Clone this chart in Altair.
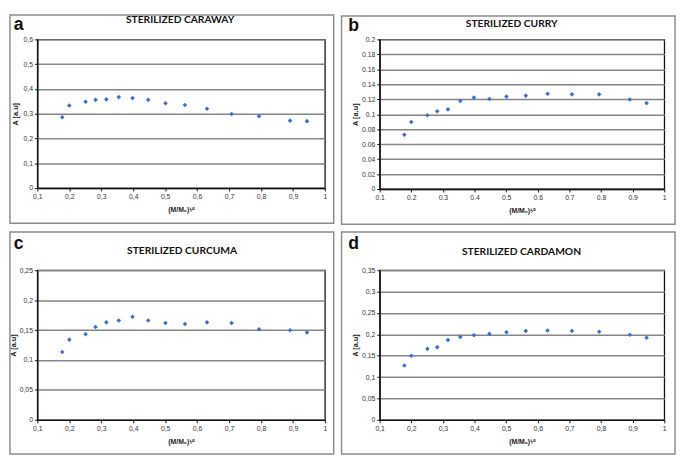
import altair as alt
import pandas as pd

# ---- data ----
x_vals = [0.178, 0.2, 0.251, 0.282, 0.316, 0.355, 0.398, 0.447, 0.501, 0.562,
          0.631, 0.708, 0.794, 0.891, 0.944]
caraway = [0.286, 0.333, 0.348, 0.356, 0.358, 0.367, 0.363, 0.356, 0.342, 0.335,
           0.320, 0.299, 0.290, 0.272, 0.270]
curry = [0.0726, 0.0896, 0.0987, 0.1039, 0.1065, 0.1178, 0.1222, 0.1204, 0.1235,
         0.1248, 0.1274, 0.1265, 0.1265, 0.1196, 0.1148]
curcuma = [0.1133, 0.134, 0.1432, 0.1552, 0.1629, 0.1661, 0.1721, 0.1661, 0.1618,
           0.1601, 0.1629, 0.1618, 0.1514, 0.1498, 0.146]
cardamon = [0.127, 0.150, 0.166, 0.170, 0.187, 0.194, 0.198, 0.201, 0.205, 0.208,
            0.209, 0.208, 0.206, 0.199, 0.192]

x_ticks = [0.1, 0.2, 0.3, 0.4, 0.5, 0.6, 0.7, 0.8, 0.9, 1]
y_ticks_a = [0, 0.1, 0.2, 0.3, 0.4, 0.5, 0.6]
y_ticks_b = [0, 0.02, 0.04, 0.06, 0.08, 0.1, 0.12, 0.14, 0.16, 0.18, 0.2]
y_ticks_c = [0, 0.05, 0.1, 0.15, 0.2, 0.25]
y_ticks_d = [0, 0.05, 0.1, 0.15, 0.2, 0.25, 0.3, 0.35]

letters = ["a", "b", "c", "d"]
titles = ["STERILIZED CARAWAY", "STERILIZED CURRY", "STERILIZED CURCUMA", "STERILIZED CARDAMON"]
x_title = "(M/M₀)¹⁄²"
y_title = "A  [a.u]"

ONE = [{}]


def panel(values, letter, title, yticks, comma, W, H, left, top, right, bottom,
          letter_pos, title_pos, ytitle_x):
    df = pd.DataFrame({"x": x_vals, "y": values})
    lbl = "replace(toString(datum.value), '.', ',')" if comma else "toString(datum.value)"
    border = alt.Chart(alt.Data(values=ONE)).mark_rect(
        filled=False, stroke="#8c8c8c", strokeWidth=1.5
    ).encode(x=alt.value(-left), x2=alt.value(W + right),
             y=alt.value(-top), y2=alt.value(H + bottom))
    let = alt.Chart(alt.Data(values=ONE)).mark_text(
        text=letter, align="left", baseline="alphabetic", fontSize=18,
        fontWeight="bold", font="Liberation Sans", color="#111"
    ).encode(x=alt.value(letter_pos[0]), y=alt.value(letter_pos[1]))
    ttl = alt.Chart(alt.Data(values=ONE)).mark_text(
        text=title, align="center", baseline="alphabetic", fontSize=10.5,
        fontWeight="bold", font="Lato", color="#111"
    ).encode(x=alt.value(title_pos[0]), y=alt.value(title_pos[1]))
    pts = alt.Chart(df).mark_point(
        shape="diamond", filled=True, size=22, color="#3a6fd6", opacity=1
    ).encode(
        x=alt.X("x:Q", scale=alt.Scale(domain=[0.1, 1], nice=False, zero=False),
                axis=alt.Axis(values=x_ticks, labelExpr=lbl, title=x_title, grid=False,
                              labelFlush=False, titleY=24, titleBaseline="alphabetic",
                              titleFontSize=7, titleFontWeight="bold")),
        y=alt.Y("y:Q", scale=alt.Scale(domain=[0, yticks[-1]], nice=False),
                axis=alt.Axis(values=yticks, labelExpr=lbl, title=y_title, grid=True,
                              titleX=ytitle_x, titleY=H / 2, titleAngle=-90,
                              titleAlign="center", titleBaseline="middle",
                              titleFontSize=7.5, titleFontWeight="bold")),
    )
    return alt.layer(border, let, ttl, pts).properties(width=W, height=H)


a = panel(caraway, "a", titles[0], y_ticks_a, True, 294, 152, 28, 25, 9, 36,
          (-24, -10), (146, -17), -22)
b = panel(curry, "b", titles[1], y_ticks_b, False, 291, 153, 39, 24, 11, 36,
          (-32, -9), (135, -13), -25)
c = panel(curcuma, "c", titles[2], y_ticks_c, True, 294, 153, 28, 39, 9, 35,
          (-24, -22), (148, -17), -24)
d = panel(cardamon, "d", titles[3], y_ticks_d, True, 291, 153, 39, 39, 11, 35,
          (-32, -22), (145, -16), -25)

chart = alt.vconcat(
    alt.hconcat(a, b, spacing=4),
    alt.hconcat(c, d, spacing=4),
    spacing=4,
).properties(padding=0, background="white").configure_view(
    stroke="#111", strokeWidth=1.3
).configure_axis(
    labelFont="Liberation Sans", labelFontSize=7, labelColor="#333",
    titleFont="Liberation Sans", titleColor="#222",
    domainColor="#111", domainWidth=1.3, tickColor="#111", tickSize=3,
    labelPadding=2, gridColor="#858585", gridWidth=1.5,
)

chart.save("out.html", embed_options={"renderer": "svg", "actions": False})
